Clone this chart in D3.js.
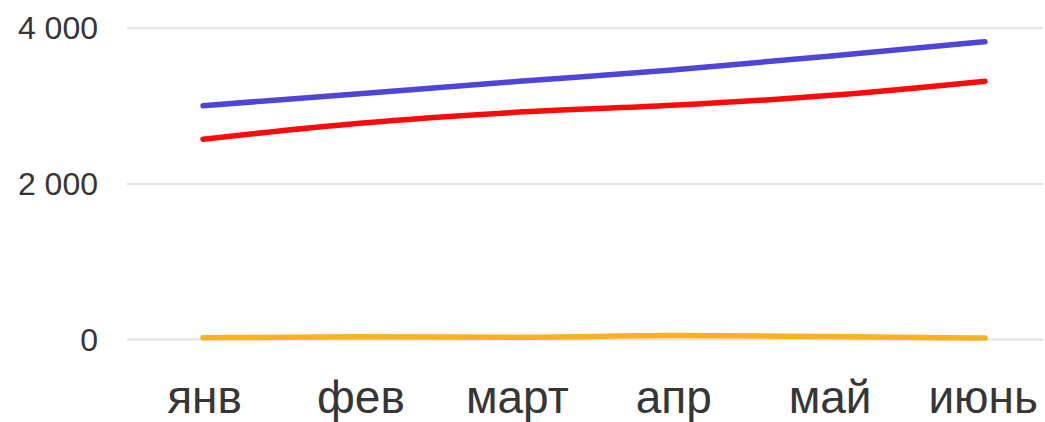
<!DOCTYPE html>
<html>
<head>
<meta charset="utf-8">
<script src="https://cdn.jsdelivr.net/npm/d3@7"></script>
<style>
  html, body { margin: 0; padding: 0; background: #fff; }
  svg { display: block; font-family: "Liberation Sans", Arial, sans-serif; }
</style>
</head>
<body>
<svg id="chart" width="1045" height="422"></svg>
<script>
// Monthly values for three series
const months = ["янв", "фев", "март", "апр", "май", "июнь"];
const seriesBlue = [3005, 3160, 3315, 3465, 3640, 3828];
const seriesRed = [2575, 2780, 2920, 3010, 3135, 3320];
const seriesOrange = [22, 35, 30, 50, 38, 18];
const yTicks = [0, 2000, 4000];

const series = [
  { name: "blue", values: seriesBlue, color: "#4f45d6" },
  { name: "red", values: seriesRed, color: "#ff0a0a" },
  { name: "orange", values: seriesOrange, color: "#fdb022" }
];

const W = 1045, H = 422;
const plot = { left: 127, right: 1043, top: 28.3, bottom: 339.5 };

const svg = d3.select("#chart");

const x = d3.scalePoint().domain(months).range([203, 985]);
const y = d3.scaleLinear().domain([0, 4000]).range([plot.bottom, plot.top]);

const fmt = v => d3.format(",")(v).replace(/,/g, " ");

// Horizontal gridlines
svg.append("g")
  .selectAll("line")
  .data(yTicks)
  .join("line")
  .attr("x1", plot.left)
  .attr("x2", plot.right)
  .attr("y1", d => y(d))
  .attr("y2", d => y(d))
  .attr("stroke", "#e2e2e2")
  .attr("stroke-width", 2);

// Y axis labels
const yAxis = d3.axisLeft(y).tickValues(yTicks).tickFormat(fmt).tickSize(0).tickPadding(0);
const yg = svg.append("g").attr("transform", "translate(98,0)").call(yAxis);
yg.select(".domain").remove();
yg.selectAll("text")
  .attr("font-size", 32)
  .attr("font-family", "Liberation Sans, Arial, sans-serif")
  .attr("fill", "#363636")
  .attr("dy", "0.33em");

// X axis labels, kept inside the canvas
const xAxis = d3.axisBottom(x).tickSize(0).tickPadding(0);
const xg = svg.append("g").attr("transform", "translate(1,413)").call(xAxis);
xg.select(".domain").remove();
xg.selectAll("text")
  .attr("font-size", 46)
  .attr("font-family", "Liberation Sans, Arial, sans-serif")
  .attr("fill", "#363636")
  .attr("dy", 0)
  .each(function () {
    const t = d3.select(this);
    const bb = this.getBBox();
    const tick = this.parentNode;
    const tx = +d3.select(tick).attr("transform").match(/translate\(([-\d.]+)/)[1];
    const right = tx + bb.x + bb.width;
    if (right > W - 8) t.attr("x", (W - 8) - right);
  });

// Series lines
const line = d3.line()
  .x((d, i) => x(months[i]))
  .y(d => y(d))
  .curve(d3.curveMonotoneX);

svg.append("g")
  .selectAll("path")
  .data(series)
  .join("path")
  .attr("d", d => line(d.values))
  .attr("fill", "none")
  .attr("stroke", d => d.color)
  .attr("stroke-width", 5.5)
  .attr("stroke-linecap", "round")
  .attr("stroke-linejoin", "round");
</script>
</body>
</html>
